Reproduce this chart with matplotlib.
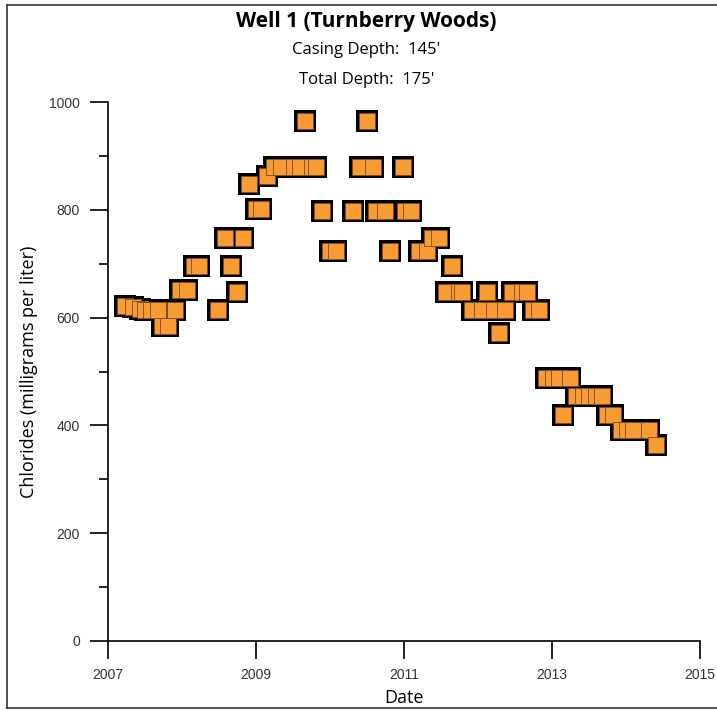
import numpy as np
import matplotlib
matplotlib.use("Agg")
import matplotlib.pyplot as plt
from matplotlib.lines import Line2D
from matplotlib.ticker import MultipleLocator

# sample dates (decimal years) and chloride readings (mg/L)
dates = [2007.24, 2007.34, 2007.43, 2007.50, 2007.59, 2007.68, 2007.74, 2007.82,
         2007.91, 2007.98, 2008.07, 2008.16, 2008.23, 2008.49, 2008.58, 2008.67,
         2008.74, 2008.83, 2008.91, 2009.00, 2009.07, 2009.15, 2009.25, 2009.34,
         2009.51, 2009.60, 2009.66, 2009.76, 2009.81, 2009.90, 2010.00, 2010.08,
         2010.31, 2010.41, 2010.50, 2010.58, 2010.63, 2010.74, 2010.81, 2010.99,
         2011.02, 2011.10, 2011.21, 2011.31, 2011.38, 2011.48, 2011.57, 2011.65,
         2011.74, 2011.79, 2011.92, 2012.05, 2012.12, 2012.22, 2012.28, 2012.37,
         2012.46, 2012.60, 2012.66, 2012.74, 2012.83, 2012.92, 2013.01, 2013.09,
         2013.15, 2013.24, 2013.33, 2013.42, 2013.50, 2013.59, 2013.67, 2013.75,
         2013.82, 2013.93, 2014.01, 2014.09, 2014.31, 2014.40]
chlorides = [622, 619, 617, 615, 615, 614, 584, 584,
             614, 652, 652, 696, 696, 615, 748, 696,
             647, 748, 848, 802, 802, 863, 880, 880,
             880, 880, 966, 880, 880, 799, 723, 723,
             799, 880, 966, 880, 799, 799, 723, 880,
             799, 799, 723, 723, 748, 748, 647, 696,
             647, 647, 615, 615, 647, 615, 571, 615,
             647, 647, 647, 615, 615, 488, 488, 488,
             420, 488, 454, 454, 454, 454, 454, 420,
             420, 392, 392, 392, 392, 364]

year_ticks = [2007, 2009, 2011, 2013, 2015]

fig = plt.figure(figsize=(7.17, 7.10), dpi=100)
ax = fig.add_axes([0.1502, 0.0976, 0.8261, 0.7583])

# black squares underneath give the merged outline, orange on top
ax.plot(dates, chlorides, 's', ms=15.8, color='black', mew=0, clip_on=False)
ax.plot(dates, chlorides, 's', ms=12.0, mfc='#F99B33', mec='#7a4a1c', mew=0.6,
        clip_on=False)

ax.set_xlim(2007, 2015)
ax.set_ylim(0, 1000)
ax.set_xticks(year_ticks)
ax.set_xticklabels([str(y) for y in year_ticks])
ax.yaxis.set_major_locator(MultipleLocator(200))
ax.yaxis.set_minor_locator(MultipleLocator(100))

for side in ['top', 'right']:
    ax.spines[side].set_visible(False)
for side in ['left', 'bottom']:
    ax.spines[side].set_linewidth(1.3)
    ax.spines[side].set_color('#111111')

ax.tick_params(which='major', direction='out', length=13, width=1.3,
               color='#111111', labelsize=10, labelcolor='#333333', pad=7)
ax.tick_params(which='minor', direction='out', length=6.5, width=1.3,
               color='#111111')
for lab in ax.get_xticklabels() + ax.get_yticklabels():
    lab.set_fontfamily('Liberation Sans')

ax.set_xlabel('Date', fontsize=13, fontfamily='Open Sans', labelpad=5)
ax.set_ylabel('Chlorides (milligrams per liter)', fontsize=13,
              fontfamily='Open Sans', labelpad=8)

fig.text(0.511, 0.970, 'Well 1 (Turnberry Woods)', ha='center', va='center',
         fontsize=15, fontweight='bold', fontfamily='Open Sans')
fig.text(0.511, 0.929, "Casing Depth:  145'", ha='center', va='center',
         fontsize=12, fontfamily='Open Sans')
fig.text(0.511, 0.888, "Total Depth:  175'", ha='center', va='center',
         fontsize=12, fontfamily='Open Sans')

# frame around the picture (right edge falls outside)
frame_kw = dict(color='#333333', lw=1.2, transform=fig.transFigure)
fig.add_artist(Line2D([0.0098, 0.0098], [0.003, 0.993], **frame_kw))
fig.add_artist(Line2D([0.0098, 1.0], [0.993, 0.993], **frame_kw))
fig.add_artist(Line2D([0.0098, 1.0], [0.003, 0.003], **frame_kw))

fig.savefig('out.png', dpi=100)
